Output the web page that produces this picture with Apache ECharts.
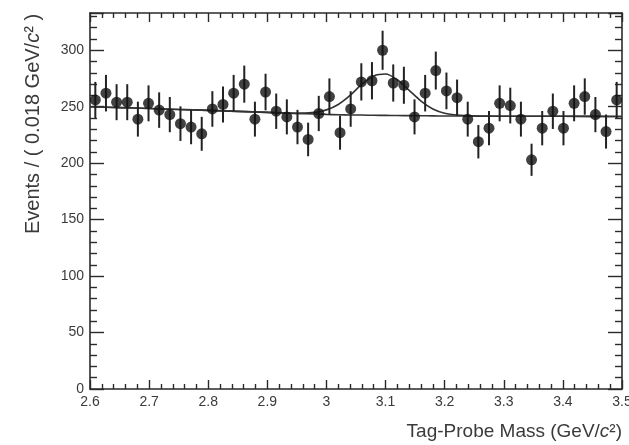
<!DOCTYPE html>
<html>
<head>
<meta charset="utf-8">
<script src="https://cdn.jsdelivr.net/npm/echarts@6/dist/echarts.min.js"></script>
<style>
  html, body { margin: 0; padding: 0; background: #fff; }
  #chart { width: 629px; height: 445px; }
</style>
</head>
<body>
<div id="chart"></div>
<script>
// bin centres (bin width 0.018 GeV/c^2)
const binCenters = [
    2.609, 2.627, 2.645, 2.663, 2.681, 2.699, 2.717, 2.735, 2.753, 2.771,
    2.789, 2.807, 2.825, 2.843, 2.861, 2.879, 2.897, 2.915, 2.933, 2.951,
    2.969, 2.987, 3.005, 3.023, 3.041, 3.059, 3.077, 3.095, 3.113, 3.131,
    3.149, 3.167, 3.185, 3.203, 3.221, 3.239, 3.257, 3.275, 3.293, 3.311,
    3.329, 3.347, 3.365, 3.383, 3.401, 3.419, 3.437, 3.455, 3.473, 3.491
];

// events per bin
const events = [
    256, 262, 254, 254, 239, 253, 247, 243, 235, 232,
    226, 248, 252, 262, 270, 239, 263, 246, 241, 232,
    221, 244, 259, 227, 248, 272, 273, 300, 271, 269,
    241, 262, 282, 264, 258, 239, 219, 231, 253, 251,
    239, 203, 231, 246, 231, 253, 259, 243, 228, 256
];

// fit curve
const fitX = [2.6, 2.65, 2.7, 2.75, 2.8, 2.85, 2.9, 2.95, 2.98, 3.0, 3.02, 3.04, 3.06,
    3.08, 3.1, 3.12, 3.14, 3.16, 3.18, 3.2, 3.22, 3.25, 3.3, 3.4, 3.5];
const fitBackground = [250, 249.2, 248.4, 247.6, 246.8, 245.9, 245, 244.1, 243.6, 243.2, 242.9, 242.7, 242.6,
    242.4, 242.3, 242.2, 242.1, 242, 241.9, 241.8, 241.8, 241.7, 241.6, 241.5, 241.4];
const fitTotal = [250, 249.2, 248.4, 247.6, 246.8, 245.9, 245, 244.1, 245, 247.2, 252, 260, 270,
    277.3, 279, 273.9, 264.5, 255, 248, 244.2, 242.6, 241.8, 241.6, 241.5, 241.4];

const xMin = 2.6, xMax = 3.5, xStep = 0.1;
const yMin = 0, yMax = 333, yStep = 50;

const FONT = 'Liberation Sans, Arial, Helvetica, sans-serif';
const TEXT_COLOR = '#3a3a3a';
const FRAME_COLOR = '#2a2a2a';

window.addEventListener('DOMContentLoaded', function() {
    initChart();
});

function makeX(position, showLabel) {
    return {
        type: 'value',
        position: position,
        min: xMin,
        max: xMax,
        interval: xStep,
        splitLine: { show: false },
        axisLine: { show: true, onZero: false, lineStyle: { color: FRAME_COLOR, width: 1.6 } },
        axisTick: { show: true, inside: true, length: 9, lineStyle: { color: FRAME_COLOR, width: 1.4 } },
        minorTick: { show: true, splitNumber: 5, length: 5, lineStyle: { color: FRAME_COLOR, width: 1.4 } },
        axisLabel: {
            show: showLabel,
            margin: 6,
            hideOverlap: false,
            color: TEXT_COLOR,
            fontFamily: FONT,
            fontSize: 14,
            formatter: v => String(parseFloat(v.toFixed(1)))
        }
    };
}

function makeY(position, showLabel) {
    return {
        type: 'value',
        position: position,
        min: yMin,
        max: yMax,
        interval: yStep,
        splitLine: { show: false },
        axisLine: { show: true, onZero: false, lineStyle: { color: FRAME_COLOR, width: 1.6 } },
        axisTick: { show: true, inside: true, length: 14, lineStyle: { color: FRAME_COLOR, width: 1.4 } },
        minorTick: { show: true, splitNumber: 5, length: 7, lineStyle: { color: FRAME_COLOR, width: 1.4 } },
        axisLabel: {
            show: showLabel,
            margin: 6,
            showMaxLabel: false,
            color: TEXT_COLOR,
            fontFamily: FONT,
            fontSize: 14
        }
    };
}

function initChart() {
    const chartDom = document.getElementById('chart');
    const myChart = echarts.init(chartDom, null, { renderer: 'canvas' });

    const points = binCenters.map((x, i) => [x, events[i]]);
    const errorBars = binCenters.map((x, i) => [x, events[i], Math.sqrt(events[i])]);
    const bkgLine = fitX.map((x, i) => [x, fitBackground[i]]);
    const totalLine = fitX.map((x, i) => [x, fitTotal[i]]);

    const option = {
        animation: false,
        backgroundColor: '#ffffff',
        grid: { left: 90, right: 7, top: 13, bottom: 56, outerBoundsMode: 'none', containLabel: false },
        xAxis: [
            Object.assign(makeX('bottom', true), {
                name: '{n|Tag-Probe Mass (GeV/}{i|c}{n|²)}',
                nameLocation: 'end',
                nameGap: 0,
                nameTextStyle: {
                    align: 'right',
                    verticalAlign: 'top',
                    padding: [33, 0, 0, 0],
                    rich: {
                        n: { fontFamily: FONT, fontSize: 19, color: TEXT_COLOR },
                        i: { fontFamily: FONT, fontSize: 19, fontStyle: 'italic', color: TEXT_COLOR }
                    }
                }
            }),
            makeX('top', false)
        ],
        yAxis: [
            makeY('left', true),
            makeY('right', false)
        ],
        graphic: [
            {
                type: 'text',
                x: 33,
                y: 124,
                rotation: Math.PI / 2,
                style: {
                    text: '{n|Events / ( 0.018 GeV/}{i|c}{n|² )}',
                    align: 'center',
                    verticalAlign: 'middle',
                    rich: {
                        n: { fontFamily: FONT, fontSize: 20, fill: TEXT_COLOR },
                        i: { fontFamily: FONT, fontSize: 20, fontStyle: 'italic', fill: TEXT_COLOR }
                    }
                }
            }
        ],
        series: [
            {
                name: 'background',
                type: 'line',
                data: bkgLine,
                smooth: 0.3,
                showSymbol: false,
                lineStyle: { color: '#333333', width: 1.6 },
                z: 2
            },
            {
                name: 'fit',
                type: 'line',
                data: totalLine,
                smooth: 0.3,
                showSymbol: false,
                lineStyle: { color: '#333333', width: 1.6 },
                z: 2
            },
            {
                name: 'errors',
                type: 'custom',
                data: errorBars,
                encode: { x: 0, y: 1 },
                renderItem: function(params, api) {
                    const x = api.value(0);
                    const y = api.value(1);
                    const e = api.value(2);
                    const top = api.coord([x, y + e]);
                    const bottom = api.coord([x, y - e]);
                    return {
                        type: 'line',
                        shape: { x1: top[0], y1: top[1], x2: bottom[0], y2: bottom[1] },
                        style: { stroke: '#222222', lineWidth: 2 }
                    };
                },
                z: 3
            },
            {
                name: 'data',
                type: 'scatter',
                data: points,
                symbol: 'circle',
                symbolSize: 11,
                itemStyle: { color: '#111111' },
                z: 4
            }
        ]
    };

    myChart.setOption(option);
    window.addEventListener('resize', () => myChart.resize());
}
</script>
</body>
</html>
